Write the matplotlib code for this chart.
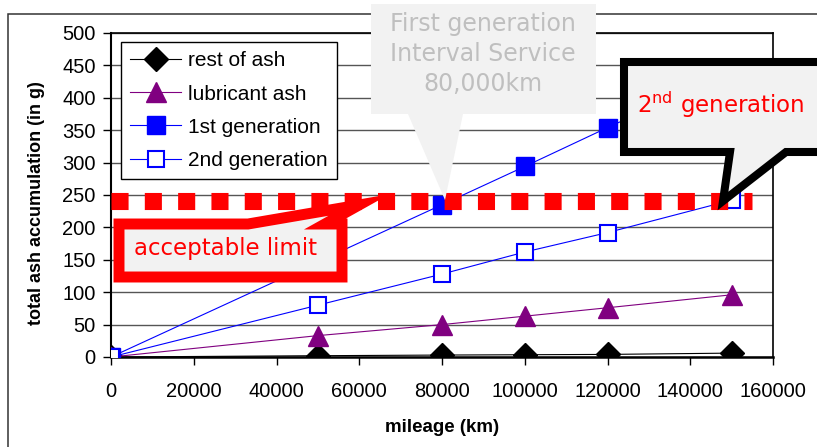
import matplotlib
matplotlib.use("Agg")
import matplotlib.pyplot as plt
from matplotlib.patches import Polygon, Rectangle

# data
mileage = [0, 50000, 80000, 100000, 120000, 150000]
rest_of_ash = [0, 2, 3, 3.5, 4, 6]
lubricant_ash = [0, 33, 50, 63, 76, 96]
first_gen_km = [0, 80000, 100000, 120000, 150000]
first_gen = [0, 235, 294, 354, 442]
second_gen = [0, 80, 128, 162, 192, 242]
limit_km = [0, 155000]
limit_value = 240

W, H = 817, 447
fig = plt.figure(figsize=(W / 100, H / 100), dpi=100)
plt.rcParams['font.family'] = ['Liberation Sans', 'DejaVu Sans']


def px(x, y):
    # pixel position (top-left origin) -> figure fraction
    return (x / W, 1 - y / H)


# outer chart frame
fig.add_artist(Rectangle(px(8, 460), 830 / W, 446 / H, transform=fig.transFigure,
                         fill=False, edgecolor='#333333', linewidth=1.1))

ax = fig.add_axes([111 / W, 1 - 357 / H, (773 - 111) / W, (357 - 33) / H])

# series
ax.plot(mileage, rest_of_ash, color='black', lw=0.8, marker='D', ms=12,
        mfc='black', mec='black', label='rest of ash', zorder=3)
ax.plot(mileage, lubricant_ash, color='#800080', lw=0.8, marker='^', ms=14,
        mfc='#800080', mec='#800080', label='lubricant ash', zorder=3)
ax.plot(first_gen_km, first_gen, color='#0000ff', lw=0.8, marker='s', ms=13.5,
        mfc='#0000ff', mec='#0000ff', label='1st generation', zorder=3)
ax.plot(mileage, second_gen, color='#0000ff', lw=0.8, marker='s', ms=11.5,
        mfc='white', mec='#0000ff', mew=1.5, label='2nd generation', zorder=4)

# acceptable limit, thick red dotted line
ax.plot(limit_km, [limit_value] * 2, color='#ff0000', lw=12.3, dashes=(1, 0.95),
        dash_capstyle='butt', zorder=5)

ax.set_xlim(0, 160000)
ax.set_ylim(0, 500)
ax.set_xticks(range(0, 160001, 20000))
ax.set_yticks(range(0, 501, 50))
ax.grid(axis='y', color='#555555', lw=1)
ax.set_axisbelow(True)
ax.tick_params(axis='both', direction='out', length=6, width=1, labelsize=14.5,
               color='black')
ax.tick_params(axis='y', pad=5)
ax.tick_params(axis='x', pad=12)
for side in ['left', 'bottom', 'right', 'top']:
    ax.spines[side].set_color('black')
    ax.spines[side].set_linewidth(1.2)
ax.spines['left'].set_linewidth(1.5)
ax.spines['bottom'].set_linewidth(1.8)

fig.text(37 / W, 1 - 203 / H, 'total ash accumulation (in g)', rotation=90,
         ha='center', va='center', fontsize=13, fontweight='bold')
fig.text(442 / W, 1 - 427 / H, 'mileage (km)', ha='center', va='center',
         fontsize=13.5, fontweight='bold')

leg = ax.legend(loc='upper left', bbox_to_anchor=px(121, 42),
                bbox_transform=fig.transFigure, borderaxespad=0, fontsize=15,
                fancybox=False, framealpha=1, edgecolor='black',
                handlelength=2.45, handletextpad=0.3, labelspacing=0.68,
                borderpad=0.45)
leg.get_frame().set_linewidth(1)

# callout: first generation interval
grey_box = [(371, 4), (596, 4), (596, 114), (463, 114), (445, 200), (408, 114), (371, 114)]
fig.add_artist(Polygon([px(*p) for p in grey_box], closed=True,
                       transform=fig.transFigure, facecolor='#f2f2f2',
                       edgecolor='none', zorder=10))
fig.text(483 / W, 1 - 54 / H, 'First generation\nInterval Service\n80,000km',
         ha='center', va='center', fontsize=17, color='#bfbfbf',
         family='DejaVu Sans', linespacing=1.3, zorder=11)

# callout: 2nd generation
black_box = [(624, 62), (840, 62), (840, 152), (786, 152), (723, 201), (730, 152), (624, 152)]
fig.add_artist(Polygon([px(*p) for p in black_box], closed=True,
                       transform=fig.transFigure, facecolor='#f2f2f2',
                       edgecolor='black', linewidth=5.8, joinstyle='miter',
                       zorder=10))
fig.text(721 / W, 1 - 105 / H, r'2$^{\mathregular{nd}}$ generation', ha='center',
         va='center', fontsize=16.5, color='#ff0000', family='DejaVu Sans',
         zorder=11)

# callout: acceptable limit
red_box = [(119, 224), (248, 224), (359, 205), (325, 224), (342, 224), (342, 277), (119, 277)]
fig.add_artist(Polygon([px(*p) for p in red_box], closed=True,
                       transform=fig.transFigure, facecolor='#f2f2f2',
                       edgecolor='#ff0000', linewidth=7.9, joinstyle='miter',
                       zorder=10))
fig.text(226 / W, 1 - 248 / H, 'acceptable limit', ha='center', va='center',
         fontsize=16.5, color='#ff0000', family='DejaVu Sans', zorder=11)

fig.savefig('out.png', dpi=100)
